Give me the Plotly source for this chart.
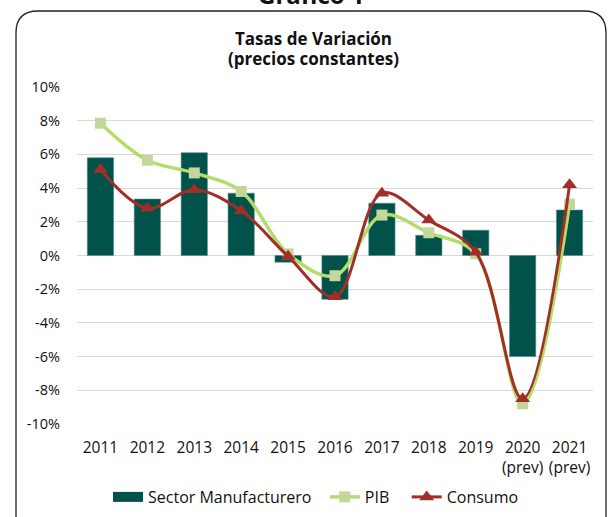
import plotly.graph_objects as go

categories = ["2011", "2012", "2013", "2014", "2015", "2016", "2017", "2018", "2019",
              "2020<br>(prev)", "2021<br>(prev)"]
manufacturero = [5.8, 3.35, 6.1, 3.7, -0.4, -2.6, 3.1, 1.2, 1.5, -6.0, 2.7]
pib = [7.85, 5.65, 4.9, 3.8, 0.1, -1.2, 2.4, 1.35, 0.1, -8.8, 3.05]
consumo = [5.1, 2.8, 3.9, 2.65, -0.05, -2.45, 3.7, 2.1, 0.2, -8.5, 4.2]
y_ticks = [-10, -8, -6, -4, -2, 0, 2, 4, 6, 8, 10]

FONT = "Open Sans"
W, H = 608, 517
# plot area in screen pixels: x 77..593, y 87..424
L, T = 77, 87
R, B = W - 593, H - 424
pw, ph = W - L - R, H - T - B
TEAL = "#00524a"

def px(x):
    return (x - L) / pw

def py(y):
    return (H - B - y) / ph

fig = go.Figure()
fig.add_trace(go.Bar(x=categories, y=manufacturero, name="Sector Manufacturero", showlegend=False,
                     marker=dict(color=TEAL, line=dict(color="#4f8f86", width=0.6))))
fig.add_trace(go.Scatter(x=[None], y=[None], name="Sector Manufacturero&nbsp;&nbsp;", mode="lines",
                         line=dict(color=TEAL, width=10)))
fig.add_trace(go.Scatter(x=categories, y=pib, name="PIB&nbsp;&nbsp;&nbsp;", mode="lines+markers",
                         line=dict(color="#b3dd6b", width=3.5, shape="spline", smoothing=1.0),
                         marker=dict(symbol="square", size=11, color="#c4d79b")))
fig.add_trace(go.Scatter(x=categories, y=consumo, name="Consumo", mode="lines+markers",
                         line=dict(color="#a12f27", width=3, shape="spline", smoothing=1.0),
                         marker=dict(symbol="triangle-up", size=13, color="#a12f27")))

# rounded frame
x0, x1, y0, y1, r = 16, 606, 11, 540, 22
path = (f"M {px(x0)},{py(y1)} L {px(x0)},{py(y0 + r)} "
        f"Q {px(x0)},{py(y0)} {px(x0 + r)},{py(y0)} "
        f"L {px(x1 - r)},{py(y0)} Q {px(x1)},{py(y0)} {px(x1)},{py(y0 + r)} "
        f"L {px(x1)},{py(y1)}")
fig.add_shape(type="path", path=path, xref="paper", yref="paper",
              line=dict(color="#222222", width=1.3), layer="below")

fig.add_annotation(text="<b>Gráfico 1</b>", x=px(311), y=py(13), xref="paper", yref="paper",
                   xanchor="center", yanchor="bottom", showarrow=False,
                   font=dict(family=FONT, size=24, color="#111111"))
fig.add_annotation(text="<b>Tasas de Variación</b>", x=px(313), y=py(38.5),
                   xref="paper", yref="paper", xanchor="center", yanchor="middle",
                   showarrow=False, font=dict(family=FONT, size=17, color="#111111"))
fig.add_annotation(text="<b>(precios constantes)</b>", x=px(313), y=py(58),
                   xref="paper", yref="paper", xanchor="center", yanchor="middle",
                   showarrow=False, font=dict(family=FONT, size=17, color="#111111"))

fig.update_layout(
    width=W, height=H,
    margin=dict(l=L, r=R, t=T, b=B, autoexpand=False),
    paper_bgcolor="white", plot_bgcolor="white",
    font=dict(family=FONT, size=15, color="#111111"),
    bargap=0.44,
    showlegend=True,
    legend=dict(orientation="h", x=px(316), xanchor="center", y=py(497), yanchor="middle",
                font=dict(size=16), itemwidth=30, traceorder="normal",
                tracegroupgap=0, itemsizing="trace"),
    xaxis=dict(type="category", showgrid=False, showline=False, ticks="",
               tickfont=dict(size=15.5), ticklabelstandoff=12, range=[-0.5, 10.5]),
    yaxis=dict(range=[-10, 10], tickvals=y_ticks, ticktext=[f"{v}%" for v in y_ticks],
               showgrid=True, gridcolor="#d9d9d9", gridwidth=1.3, zeroline=False,
               showline=False, ticks="", tickfont=dict(size=14.5), ticklabelstandoff=16),
)

fig.write_html("out.html", config={"displayModeBar": False},
               post_script="document.body.style.margin='0';")
